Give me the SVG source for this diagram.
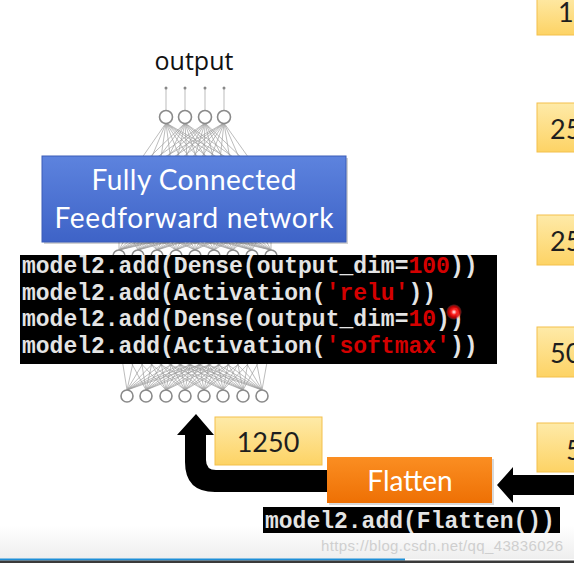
<svg xmlns="http://www.w3.org/2000/svg" width="574" height="563" viewBox="0 0 574 563">
<defs>
<linearGradient id="gBlue" x1="0" y1="0" x2="0" y2="1"><stop offset="0" stop-color="#5d83de"/><stop offset="1" stop-color="#3e63c7"/></linearGradient>
<linearGradient id="gYel" x1="0" y1="0" x2="0" y2="1"><stop offset="0" stop-color="#feeaa8"/><stop offset="1" stop-color="#fdd365"/></linearGradient>
<linearGradient id="gOr" x1="0" y1="0" x2="0" y2="1"><stop offset="0" stop-color="#fb8e22"/><stop offset="1" stop-color="#ee7004"/></linearGradient>
<linearGradient id="gBg" x1="0" y1="0" x2="0" y2="1"><stop offset="0" stop-color="#ffffff"/><stop offset="1" stop-color="#eeeeee"/></linearGradient>
<radialGradient id="gDot"><stop offset="0" stop-color="#ffffff"/><stop offset="0.35" stop-color="#ff2020"/><stop offset="0.7" stop-color="#e00000" stop-opacity="0.8"/><stop offset="1" stop-color="#ff6060" stop-opacity="0"/></radialGradient>
</defs>
<style>
.m{stroke:#9c9c9c;stroke-width:0.8;fill:none;stroke-opacity:0.85}
.n{fill:#fff;stroke:#8a8a8a;stroke-width:1.6}
.sans{font-family:Lato,"Open Sans","Liberation Sans",sans-serif}
.code{font-family:"Liberation Mono","DejaVu Sans Mono",monospace;font-weight:bold;font-size:23px;fill:#e4e4e4}
.red{fill:#d40000}
.yel{fill:url(#gYel);stroke:#f3c04c;stroke-width:1}
.num{font-size:27px;fill:#1e1e1e}
.arrow{fill:#000}
</style>
<rect x="0" y="0" width="574" height="563" fill="#ffffff"/>
<rect x="0" y="525" width="574" height="34" fill="url(#gBg)"/>

<g id="output-label"><text x="194" y="70" font-family="'Open Sans',Lato,sans-serif" font-size="25" text-anchor="middle" fill="#111">output</text></g>

<g id="nn-top">
<path class="m" d="M166 88V111M185 88V111M205 88V111M224 88V111"/>
<circle cx="166" cy="88" r="1.5" fill="#888"/><circle cx="185" cy="88" r="1.5" fill="#888"/><circle cx="205" cy="88" r="1.5" fill="#888"/><circle cx="224" cy="88" r="1.5" fill="#888"/>
<path class="m" d="M166 123L128 178M166 123L143 178M166 123L158 178M166 123L173 178M166 123L188 178M166 123L203 178M166 123L218 178M166 123L233 178M166 123L248 178M166 123L263 178
M185 123L128 178M185 123L143 178M185 123L158 178M185 123L173 178M185 123L188 178M185 123L203 178M185 123L218 178M185 123L233 178M185 123L248 178M185 123L263 178
M205 123L128 178M205 123L143 178M205 123L158 178M205 123L173 178M205 123L188 178M205 123L203 178M205 123L218 178M205 123L233 178M205 123L248 178M205 123L263 178
M224 123L128 178M224 123L143 178M224 123L158 178M224 123L173 178M224 123L188 178M224 123L203 178M224 123L218 178M224 123L233 178M224 123L248 178M224 123L263 178"/>
<circle class="n" cx="166" cy="117" r="6.5"/><circle class="n" cx="185" cy="117" r="6.5"/><circle class="n" cx="205" cy="117" r="6.5"/><circle class="n" cx="224" cy="117" r="6.5"/>
<path class="m" d="M119 250L119 215M119 250L138 215M119 250L157 215M119 250L176 215M119 250L195 215M119 250L214 215M119 250L233 215M119 250L252 215M119 250L271 215
M138 250L119 215M138 250L138 215M138 250L157 215M138 250L176 215M138 250L195 215M138 250L214 215M138 250L233 215M138 250L252 215M138 250L271 215
M157 250L119 215M157 250L138 215M157 250L157 215M157 250L176 215M157 250L195 215M157 250L214 215M157 250L233 215M157 250L252 215M157 250L271 215
M176 250L119 215M176 250L138 215M176 250L157 215M176 250L176 215M176 250L195 215M176 250L214 215M176 250L233 215M176 250L252 215M176 250L271 215
M195 250L119 215M195 250L138 215M195 250L157 215M195 250L176 215M195 250L195 215M195 250L214 215M195 250L233 215M195 250L252 215M195 250L271 215
M214 250L119 215M214 250L138 215M214 250L157 215M214 250L176 215M214 250L195 215M214 250L214 215M214 250L233 215M214 250L252 215M214 250L271 215
M233 250L119 215M233 250L138 215M233 250L157 215M233 250L176 215M233 250L195 215M233 250L214 215M233 250L233 215M233 250L252 215M233 250L271 215
M252 250L119 215M252 250L138 215M252 250L157 215M252 250L176 215M252 250L195 215M252 250L214 215M252 250L233 215M252 250L252 215M252 250L271 215
M271 250L119 215M271 250L138 215M271 250L157 215M271 250L176 215M271 250L195 215M271 250L214 215M271 250L233 215M271 250L252 215M271 250L271 215"/>
<circle class="n" cx="119" cy="256" r="6"/><circle class="n" cx="138" cy="256" r="6"/><circle class="n" cx="157" cy="256" r="6"/><circle class="n" cx="176" cy="256" r="6"/><circle class="n" cx="195" cy="256" r="6"/><circle class="n" cx="214" cy="256" r="6"/><circle class="n" cx="233" cy="256" r="6"/><circle class="n" cx="252" cy="256" r="6"/><circle class="n" cx="271" cy="256" r="6"/>
</g>

<g id="nn-bottom">
<path class="m" d="M127 390L119 340M127 390L138 340M127 390L157 340M127 390L176 340M127 390L195 340M127 390L214 340M127 390L233 340M127 390L252 340M127 390L271 340
M146 390L119 340M146 390L138 340M146 390L157 340M146 390L176 340M146 390L195 340M146 390L214 340M146 390L233 340M146 390L252 340M146 390L271 340
M166 390L119 340M166 390L138 340M166 390L157 340M166 390L176 340M166 390L195 340M166 390L214 340M166 390L233 340M166 390L252 340M166 390L271 340
M185 390L119 340M185 390L138 340M185 390L157 340M185 390L176 340M185 390L195 340M185 390L214 340M185 390L233 340M185 390L252 340M185 390L271 340
M204 390L119 340M204 390L138 340M204 390L157 340M204 390L176 340M204 390L195 340M204 390L214 340M204 390L233 340M204 390L252 340M204 390L271 340
M223 390L119 340M223 390L138 340M223 390L157 340M223 390L176 340M223 390L195 340M223 390L214 340M223 390L233 340M223 390L252 340M223 390L271 340
M243 390L119 340M243 390L138 340M243 390L157 340M243 390L176 340M243 390L195 340M243 390L214 340M243 390L233 340M243 390L252 340M243 390L271 340
M262 390L119 340M262 390L138 340M262 390L157 340M262 390L176 340M262 390L195 340M262 390L214 340M262 390L233 340M262 390L252 340M262 390L271 340"/>
<circle class="n" cx="127" cy="396" r="6"/><circle class="n" cx="146" cy="396" r="6"/><circle class="n" cx="166" cy="396" r="6"/><circle class="n" cx="185" cy="396" r="6"/><circle class="n" cx="204" cy="396" r="6"/><circle class="n" cx="223" cy="396" r="6"/><circle class="n" cx="243" cy="396" r="6"/><circle class="n" cx="262" cy="396" r="6"/>
</g>

<g id="fc-box">
<rect x="44" y="158" width="304" height="86" fill="#000" opacity="0.18"/>
<rect x="42" y="156" width="304" height="86" fill="url(#gBlue)" stroke="#3a5cb8" stroke-width="1"/>
<text class="sans" x="194" y="190" font-size="28" fill="#fff" text-anchor="middle" textLength="205">Fully Connected</text>
<text class="sans" x="194" y="228" font-size="28" fill="#fff" text-anchor="middle" textLength="279">Feedforward network</text>
</g>

<g id="code-dense">
<rect x="20" y="255" width="477" height="109" fill="#000"/>
<text class="code" x="22" y="273">model2.add(Dense(output_dim=<tspan class="red">100</tspan>))</text>
<text class="code" x="22" y="299.5">model2.add(Activation(<tspan class="red">'relu'</tspan>))</text>
<text class="code" x="22" y="326">model2.add(Dense(output_dim=<tspan class="red">10</tspan>))</text>
<text class="code" x="22" y="352.5">model2.add(Activation(<tspan class="red">'softmax'</tspan>))</text>
<circle cx="454" cy="312" r="8" fill="url(#gDot)"/>
</g>

<g id="box-1250">
<rect class="yel" x="215" y="417" width="107" height="48"/>
<text class="sans num" x="268" y="452" text-anchor="middle">1250</text>
</g>

<g id="right-boxes">
<rect class="yel" x="537" y="-5" width="45" height="40"/>
<text class="sans num" x="558" y="22">1</text>
<rect class="yel" x="537" y="103" width="45" height="49"/>
<text class="sans num" x="550" y="139">25</text>
<rect class="yel" x="537" y="215" width="45" height="50"/>
<text class="sans num" x="550" y="251">25</text>
<rect class="yel" x="537" y="327" width="45" height="50"/>
<text class="sans num" x="550" y="363">50</text>
<rect class="yel" x="537" y="423" width="45" height="49"/>
<text class="sans num" x="566" y="460">5</text>
</g>

<g id="connectors">
<path class="arrow" d="M329 470L216 470Q206 470 206 460L206 435L214 435L196 414L177 435L185 435L185 462Q185 492 215 492L329 492Z"/>
<path class="arrow" d="M574 475L513 475L513 467L497 485L513 503L513 495L574 495Z"/>
</g>

<g id="flatten">
<rect x="329" y="459" width="165" height="46" fill="#000" opacity="0.15"/>
<rect x="327" y="457" width="165" height="46" fill="url(#gOr)"/>
<text class="sans" x="410" y="491" font-size="28" fill="#fff" text-anchor="middle">Flatten</text>
</g>

<g id="code-flatten">
<rect x="263" y="507" width="297" height="26" fill="#000"/>
<text class="code" x="265" y="528" fill="#d8d8d8">model2.add(Flatten())</text>
</g>

<g id="watermark">
<text x="321" y="551" font-family="'Liberation Sans',Arial,sans-serif" font-size="15" fill="#cfcfcf" textLength="242">https://blog.csdn.net/qq_43836026</text>
</g>

<rect x="0" y="558.5" width="405" height="2" fill="#1e8fd8"/>
<rect x="0" y="560.5" width="574" height="2.5" fill="#3a3a3a"/>
</svg>
